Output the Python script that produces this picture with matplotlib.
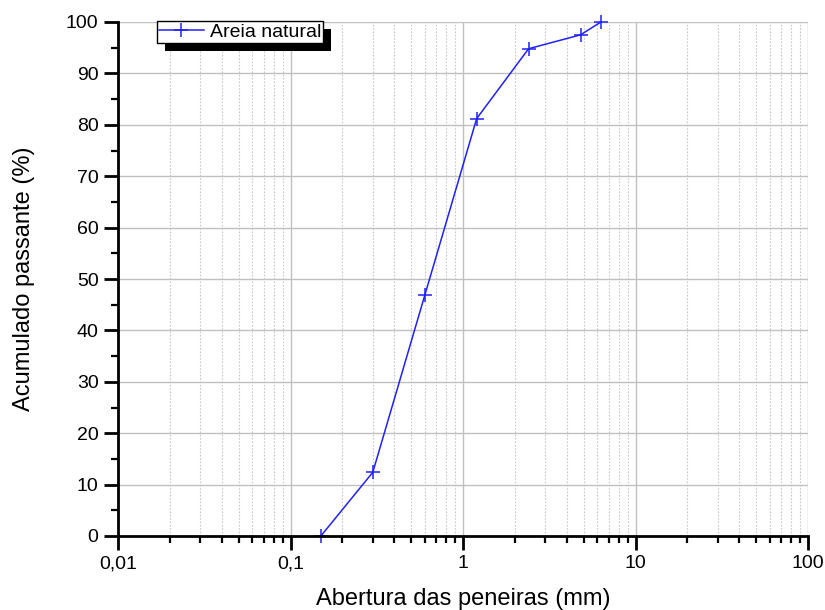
import matplotlib
matplotlib.use("Agg")
import matplotlib.pyplot as plt
from matplotlib.ticker import FixedLocator, FuncFormatter, LogLocator, MultipleLocator
from matplotlib.patches import Rectangle
from matplotlib.transforms import IdentityTransform

# Data
abertura_mm = [0.15, 0.3, 0.6, 1.2, 2.4, 4.8, 6.3]
passante_pct = [0.0, 12.4, 46.8, 81.2, 94.8, 97.5, 100.0]
serie_nome = "Areia natural"
x_ticks = [0.01, 0.1, 1, 10, 100]
x_tick_labels = ["0,01", "0,1", "1", "10", "100"]
y_ticks = list(range(0, 101, 10))

plt.rcParams['font.family'] = ['Liberation Sans', 'DejaVu Sans']

fig = plt.figure(figsize=(8.25, 6.1), dpi=100)
ax = fig.add_axes([118/825, 1-536/610, (808-118)/825, (536-22)/610])

ax.plot(abertura_mm, passante_pct, color='#2020ff', lw=1.1, marker='+',
        markersize=10, markeredgewidth=1.1, label=serie_nome, zorder=3, clip_on=False)

ax.set_xscale('log')
ax.set_xlim(0.01, 100)
ax.set_ylim(0, 100)

ax.xaxis.set_major_locator(FixedLocator(x_ticks))
ax.xaxis.set_major_formatter(FuncFormatter(lambda v, p: x_tick_labels[x_ticks.index(v)] if v in x_ticks else ""))
ax.xaxis.set_minor_locator(LogLocator(base=10, subs=range(2, 10)))
ax.xaxis.set_minor_formatter(FuncFormatter(lambda v, p: ""))
ax.yaxis.set_major_locator(FixedLocator(y_ticks))
ax.yaxis.set_minor_locator(MultipleLocator(5))

for s in ['top', 'right']:
    ax.spines[s].set_visible(False)
for s in ['left', 'bottom']:
    ax.spines[s].set_linewidth(2)
    ax.spines[s].set_zorder(4)

ax.tick_params(axis='both', which='major', direction='out', length=10, width=2,
               labelsize=14, pad=4)
ax.tick_params(axis='y', which='major', pad=4)
ax.tick_params(axis='both', which='minor', direction='out', length=5, width=1.6)

ax.grid(True, which='major', axis='both', color='#c0c0c0', lw=1.0, ls='-')
ax.grid(True, which='minor', axis='x', color='#c8c8c8', lw=0.8, ls=(0, (1.5, 1.5)))
ax.set_axisbelow(True)

ax.set_xlabel("Abertura das peneiras (mm)", fontsize=17, labelpad=11)
ax.set_ylabel("Acumulado passante (%)", fontsize=17, labelpad=22)

leg = ax.legend(loc='upper left', bbox_to_anchor=(39/690, 1+1/514), borderaxespad=0,
                fancybox=False, shadow=False, frameon=True, fontsize=14,
                handlelength=2.3, handletextpad=0.3, borderpad=0.1,
                edgecolor='black', framealpha=1)
leg.get_frame().set_linewidth(1.0)

fig.canvas.draw()
bb = leg.get_window_extent(fig.canvas.get_renderer())
shadow = Rectangle((bb.x0 + 8, bb.y0 - 8), bb.width, bb.height, transform=IdentityTransform(),
                   facecolor='black', edgecolor='none', zorder=4.9, clip_on=False)
ax.add_artist(shadow)

fig.savefig("out.png", dpi=100)
